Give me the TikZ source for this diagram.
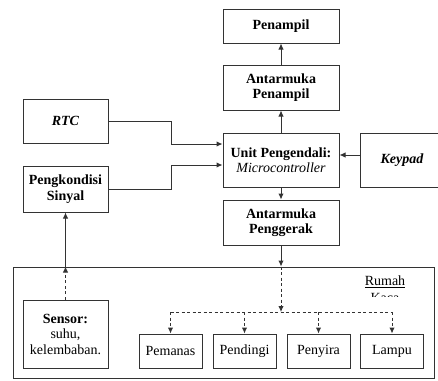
\documentclass[tikz,border=0pt]{standalone}
\usepackage{fontspec}
\setmainfont{Liberation Serif}
\usetikzlibrary{arrows.meta}
\begin{document}
\begin{tikzpicture}[x=1pt, y=-1pt,
		every node/.style={font=\fontsize{14}{15.5}\selectfont, align=center, inner sep=1pt},
		blok/.style={draw=black!80, line width=1pt, minimum width=116pt, minimum height=45pt},
		kecil/.style={blok, minimum width=85pt},
		aktuator/.style={blok, minimum width=63pt, minimum height=34pt},
		panah/.style={draw=black!80, line width=1pt, -{Latex[length=6pt,width=5.5pt]}},
		putus/.style={panah, dashed, dash pattern=on 3pt off 2.5pt},
		]
		\useasboundingbox (0,0) rectangle (438,380);
		% blok atas
		\node [blok, minimum height=34pt] (pen) at (281,26) {\textbf{Penampil}};
		\node [blok] (amp) at (281,87.5) {\textbf{Antarmuka}\\\textbf{Penampil}};
		\node [blok, minimum height=54pt] (unit) at (281,160) {\textbf{Unit Pengendali:}\\\textit{Microcontroller}};
		\node [blok, minimum width=84pt, minimum height=54pt] (key) at (402,160) {\textbf{\textit{Keypad}}};
		\node [blok] (amg) at (281,222.5) {\textbf{Antarmuka}\\\textbf{Penggerak}};
		\node [kecil, minimum height=44pt] (rtc) at (65.5,121) {\textbf{\textit{RTC}}};
		\node [kecil, minimum height=46pt] (pks) at (65.5,189) {\textbf{Pengkondisi}\\\textbf{Sinyal}};
		% rumah kaca
		\node [draw=black!80, line width=1pt, minimum width=421pt, minimum height=111pt] (rumah) at (223.5,322.5) {};
		\node [anchor=north] (lbl) at (385,275) {\underline{Rumah}};
		\begin{scope}
			\clip (350,292.5) rectangle (420,296.5);
			\node [anchor=north] (lbl2) at (385,292) {Kaca};
		\end{scope}
		\node [kecil, minimum height=68pt] (sen) at (65.5,334) {\textbf{Sensor:}\\suhu,\\kelembaban.};
		\node [aktuator] (pms) at (170.5,351) {Pemanas};
		\node [aktuator] (pdg) at (244.5,351) {Pendingi};
		\node [aktuator] (psr) at (318.5,351) {Penyira};
		\node [aktuator] (lmp) at (392,351) {Lampu};
		\coordinate (bus) at (281,312);
		\coordinate (masuk) at (sen.north |- rumah.north);
		% sambungan
		\draw [panah] (unit) -- (amp);
		\draw [panah] (amp) -- (pen);
		\draw [panah] (unit) -- (amg);
		\draw [panah] ([yshift=5pt]key.west) -- ([yshift=5pt]unit.east);
		\draw [panah] (rtc.east) -- ++(63pt,0) |- ([yshift=16pt]unit.west);
		\draw [panah] (pks.east) -- ++(63pt,0) |- ([yshift=-5pt]unit.west);
		\draw [panah] (amg.south) -- (amg.south |- rumah.north);
		\draw [putus] (amg.south |- rumah.north) -- (bus);
		\draw [putus, -] (pms.north |- bus) -- (lmp.north |- bus);
		\foreach \a in {pms, pdg, psr, lmp}
			\draw [putus] (\a.north |- bus) -- (\a.north);
		\draw [putus] (sen.north) -- (masuk);
		\draw [panah] (masuk) -- (pks.south);
	\end{tikzpicture}
\end{document}
